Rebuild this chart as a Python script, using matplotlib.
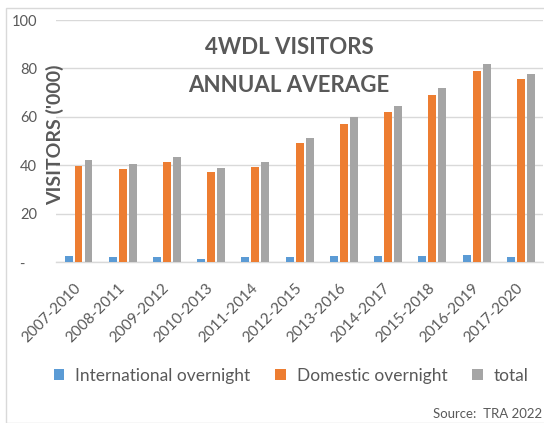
import matplotlib
matplotlib.use("Agg")
import matplotlib.pyplot as plt
from matplotlib.patches import Rectangle
from matplotlib.ticker import FuncFormatter
import numpy as np

categories = ["2007-2010", "2008-2011", "2009-2012", "2010-2013", "2011-2014",
              "2012-2015", "2013-2016", "2014-2017", "2015-2018", "2016-2019", "2017-2020"]
international = [2.6, 2.2, 2.0, 1.5, 2.0, 2.0, 2.6, 2.6, 2.6, 2.9, 2.2]
domestic = [39.7, 38.5, 41.4, 37.3, 39.3, 49.4, 57.1, 61.9, 69.0, 78.9, 75.6]
total = [42.1, 40.7, 43.5, 38.8, 41.3, 51.4, 59.8, 64.6, 71.8, 81.8, 77.8]
series_names = ["International overnight", "Domestic overnight", "total"]
yticks = [0, 20, 40, 60, 80, 100]

plt.rcParams['font.family'] = ['Lato', 'DejaVu Sans']
TXT = '#595959'
W, H = 544, 423
fig = plt.figure(figsize=(W / 100, H / 100), dpi=100)

# chart border
fig.patches.append(Rectangle((5.5 / W, 0), 1.2, 1 - 8.5 / H, transform=fig.transFigure,
                             fill=False, edgecolor='#D9D9D9', lw=1.0))

left, right, top, bottom = 56.4, 543.0, 20.0, 262.3
ax = fig.add_axes([left / W, 1 - bottom / H, (right - left) / W, (bottom - top) / H])

x = np.arange(len(categories))
bw = 0.18
step = 0.226
colors = ['#5B9BD5', '#ED7D31', '#A5A5A5']
bars = []
for i, (vals, c) in enumerate(zip([international, domestic, total], colors)):
    b = ax.bar(x + (i - 1) * step, vals, width=bw, color=c, zorder=3, label=series_names[i])
    bars.append(b)

ax.set_xlim(-0.5, len(categories) - 0.5)
ax.set_ylim(0, 100)
ax.set_yticks(yticks)
ax.yaxis.set_major_formatter(FuncFormatter(lambda v, p: '-   ' if v == 0 else f'{int(v)}'))
ax.grid(axis='y', color='#D9D9D9', lw=1.0, zorder=0)
for s in ['left', 'right', 'top']:
    ax.spines[s].set_visible(False)
ax.spines['bottom'].set_color('#D9D9D9')
ax.spines['bottom'].set_linewidth(1.0)
ax.tick_params(axis='y', length=0, pad=14, labelsize=10.5, labelcolor=TXT)
ax.tick_params(axis='x', length=0, pad=17, labelsize=11, labelcolor=TXT)
ax.set_xticks(x)
ax.set_xticklabels(categories, rotation=45, ha='right', va='center', rotation_mode='anchor')

# title inside plot
fig.text(289 / W, 1 - 48 / H, "4WDL VISITORS", ha='center', va='center',
         fontsize=16, fontweight='bold', color=TXT)
fig.text(289 / W, 1 - 85 / H, "ANNUAL AVERAGE", ha='center', va='center',
         fontsize=16, fontweight='bold', color=TXT)

# y label
fig.text(55.5 / W, 1 - 135 / H, "VISITORS ('000)", rotation=90, ha='center', va='center',
         fontsize=14, fontweight='bold', color=TXT)

# legend
fig.legend(handles=bars, labels=series_names, loc='center left',
           bbox_to_anchor=(54 / W, 1 - 376 / H), ncol=3, frameon=False,
           fontsize=12.5, labelcolor=TXT, handlelength=0.6, handleheight=0.6,
           handletextpad=0.63, columnspacing=1.44, borderpad=0, borderaxespad=0)

# source
fig.text(542 / W, 1 - 414 / H, "Source:  TRA 2022", ha='right', va='center',
         fontsize=9.5, color=TXT)

fig.savefig("out.png", dpi=100)
